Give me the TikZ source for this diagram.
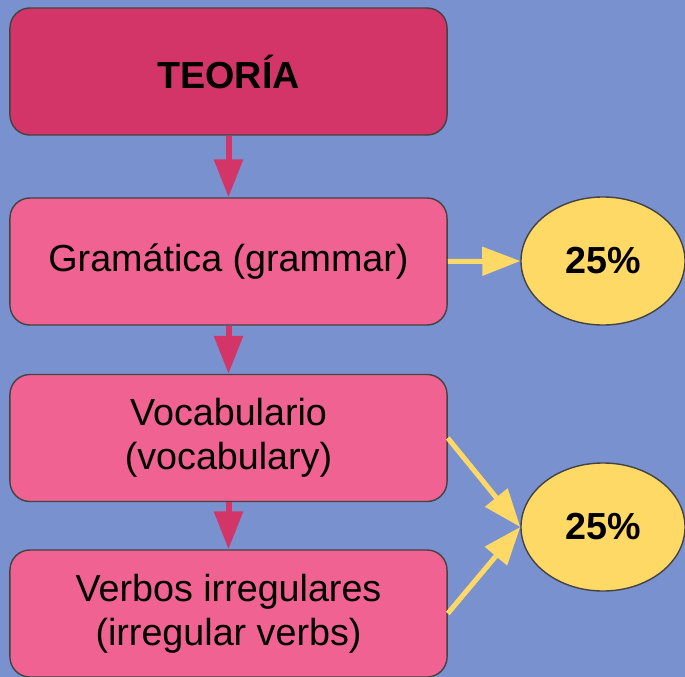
\documentclass[tikz,border=0pt]{standalone}
\usepackage{fontspec}
\setmainfont{Liberation Sans}
\usetikzlibrary{arrows.meta,shapes.geometric}

\definecolor{bgblue}{RGB}{121,145,206}
\definecolor{pinkdark}{RGB}{211,53,104}
\definecolor{pinklight}{RGB}{240,98,146}
\definecolor{ylw}{RGB}{255,217,102}
\definecolor{edgegray}{RGB}{67,67,67}

\begin{document}
\begin{tikzpicture}[x=0.025cm,y=-0.025cm,
        box/.style={draw=edgegray, line width=1pt, rounded corners=0.5cm,
            minimum width=10.925cm, minimum height=3.175cm, inner sep=0pt,
            align=center, font=\fontsize{26.8}{31.2}\selectfont},
        pct/.style={ellipse, draw=edgegray, line width=1pt, fill=ylw,
            minimum width=4.1cm, minimum height=3.2cm, inner sep=0pt,
            font=\fontsize{26.8}{31.2}\selectfont\bfseries},
        pinkarrow/.style={-{Triangle[length=0.95cm,width=0.7cm]}, line width=0.15cm, draw=pinkdark},
        ylwarrow/.style={-{Triangle[length=0.95cm,width=0.7cm]}, line width=0.125cm, draw=ylw}]

        % background
        \fill[bgblue] (0,0) rectangle (685,677);
        \useasboundingbox (0,0) rectangle (685,677);

        % boxes
        \node[box, fill=pinkdark, font=\fontsize{26.8}{31.2}\selectfont\bfseries] (teoria) at (228.5,71.5) {TEORÍA};
        \node[box, fill=pinklight] (gramatica) at (228.5,261.5) {Gramática (grammar)};
        \node[box, fill=pinklight] (vocabulario) at (228.5,438) {Vocabulario\\(vocabulary)};
        \node[box, fill=pinklight] (verbos) at (228.5,613.5) {Verbos irregulares\\(irregular verbs)};

        % percentages
        \node[pct] (pctgram) at (603,261) {25\%};
        \node[pct] (pctvoc) at (603,527) {25\%};

        % down the list
        \draw[pinkarrow] (teoria.south) -- (gramatica.north);
        \draw[pinkarrow] (gramatica.south) -- (vocabulario.north);
        \draw[pinkarrow] (vocabulario.south) -- (verbos.north);

        % to the weights
        \draw[ylwarrow] (gramatica.east) -- (pctgram.west);
        \draw[ylwarrow] (vocabulario.east) -- (pctvoc.west);
        \draw[ylwarrow] (verbos.east) -- (pctvoc.west);
    \end{tikzpicture}
\end{document}
